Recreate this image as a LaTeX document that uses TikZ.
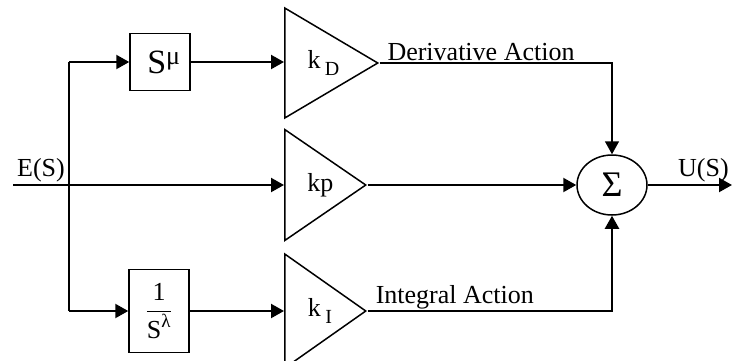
\documentclass[tikz,border=0pt]{standalone}
\usepackage{amsmath}
\usepackage{fontspec}
\setmainfont{Liberation Serif}
\usetikzlibrary{arrows.meta, shapes.geometric}
\newcommand{\gainsub}[2]{\hspace{14pt}#1\,\raisebox{-7pt}{\fontsize{20}{20}\selectfont #2}}

\begin{document}
\begin{tikzpicture}[
    x=1pt, y=-1pt,
    % GLOBAL CFG
    font=\fontsize{26}{30}\selectfont,
    >={Triangle[length=13pt, width=14pt]},
    % Styles
    block/.style={% For the transfer blocks
        rectangle,
        draw,
        line width=1.5pt,
        inner sep=0pt,
        minimum width=60pt,
        },
    gain/.style={% For the gain triangles
        isosceles triangle,
        isosceles triangle stretches,
        shape border rotate=0,
        draw,
        line width=1.5pt,
        inner sep=0pt,
        anchor=lower side,
        },
    summer/.style={% For the summing junction
        ellipse,
        draw,
        line width=1.5pt,
        minimum width=70pt,
        minimum height=60pt,
        inner sep=0pt,
        },
    signal/.style={% Main signal lines
        line width=2.2pt,
        },
    thinsignal/.style={% Thinner line out of k_D
        line width=1.6pt,
        },
    ]

    \useasboundingbox (0,0) rectangle (732,360);

    % Blocks
    \node [block, minimum height=57pt] (smu) at (160,62) {\hspace{8pt}{\fontsize{34}{34}\selectfont S}\textsuperscript{\fontsize{26}{26}\selectfont μ}};
    \node [block, minimum height=83pt] (sinv) at (159,311) {$\dfrac{\text{\fontsize{26}{26}\selectfont 1}}{\text{\fontsize{26}{26}\selectfont S}^{\text{\fontsize{19}{19}\selectfont λ}}}$};

    % Gains
    \node [gain, minimum height=93pt, minimum width=110pt] (kd) at (284,63) {\gainsub{k}{D}};
    \node [gain, minimum height=81pt, minimum width=111pt] (kp) at (284,185) {\hspace{14pt}kp};
    \node [gain, minimum height=81pt, minimum width=114pt] (ki) at (284,311) {\gainsub{k}{I}};

    % Summing junction
    \node [summer] (sum) at (612,185) {\fontsize{36}{36}\selectfont Σ};

    % Input, output and branch points
    \coordinate (in) at (13,185);
    \coordinate (out) at (732,185);
    \coordinate (top) at (69,62);
    \coordinate (bot) at (69,311);
    \node [anchor=south west, inner sep=0pt] (ein) at (17,182) {E(S)};
    \node [anchor=south west, inner sep=0pt] (uout) at (678,182) {U(S)};

    % Inputs
    \draw [->, signal] (in) -- (kp.lower side);
    \draw [signal] (top) -- (bot);
    \draw [->, signal] (top) -- (smu.west);
    \draw [->, signal] (bot) -- (sinv.west);
    \draw [->, signal] (smu.east) -- (smu.east -| kd.lower side);
    \draw [->, signal] (sinv.east) -- (sinv.east -| ki.lower side);

    % Actions
    \draw [->, thinsignal] (kd.apex) -| node [pos=0, anchor=south west, xshift=6pt, inner sep=1pt] (dlbl) {Derivative Action} (sum.north);
    \draw [->, signal] (kp.apex) -- (sum.west);
    \draw [->, signal] (ki.apex) -| node [pos=0, anchor=south west, xshift=6pt, inner sep=1pt] (ilbl) {Integral Action} (sum.south);

    %Output
    \draw [->, signal] (sum.east) -- (out);

\end{tikzpicture}
\end{document}
